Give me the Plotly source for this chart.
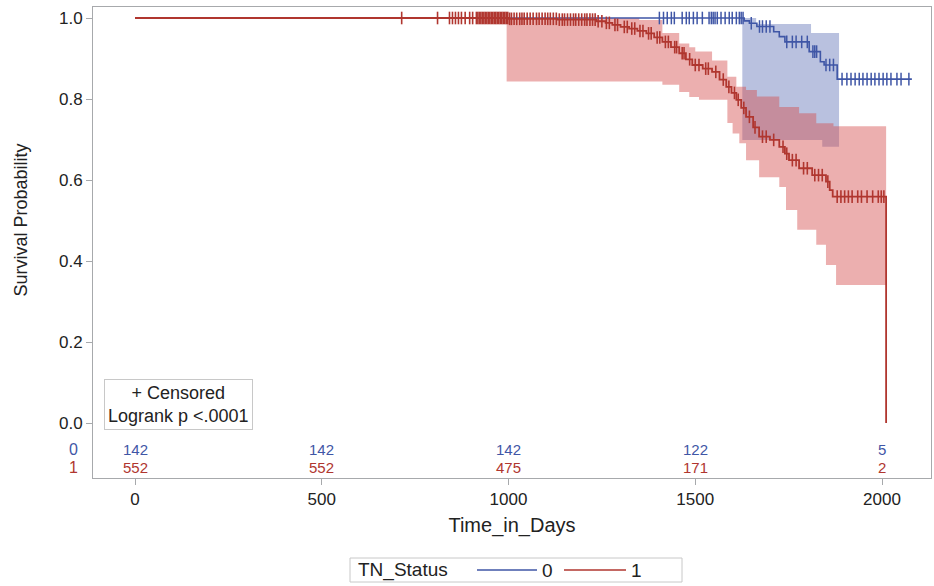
import numpy as np
import plotly.graph_objects as go

# ---------------- data ----------------
# Kaplan-Meier step curves (time in days, survival after event)
red_t = [0, 1000, 1130, 1235, 1260, 1278, 1300, 1323, 1345, 1369, 1390, 1412, 1435, 1457, 1475,
         1492, 1520, 1545, 1565, 1583, 1597, 1610, 1623, 1636, 1655, 1671, 1700, 1725, 1740, 1751,
         1778, 1813, 1850, 1860, 1868, 2011]
red_s = [1.0, 0.998, 0.996, 0.992, 0.988, 0.983, 0.978, 0.974, 0.968, 0.962, 0.952, 0.941, 0.928, 0.913, 0.898,
         0.884, 0.875, 0.867, 0.848, 0.830, 0.815, 0.798, 0.778, 0.756, 0.730, 0.707, 0.699, 0.682, 0.665, 0.649,
         0.629, 0.612, 0.596, 0.575, 0.559, 0.0]

blue_t = [0, 1631, 1645, 1665, 1710, 1725, 1740, 1805, 1835, 1845, 1880, 2080]
blue_s = [1.0, 0.993, 0.987, 0.979, 0.966, 0.954, 0.941, 0.917, 0.892, 0.884, 0.849, 0.849]

# Hall-Wellner confidence bands
red_band_t = [995, 1350, 1412, 1457, 1484, 1500, 1510, 1545, 1586, 1600, 1610, 1618, 1636, 1665, 1671,
              1725, 1743, 1773, 1778, 1824, 1850, 1870, 1877, 2011]
red_band_lo = [0.843, 0.843, 0.835, 0.817, 0.805, 0.805, 0.798, 0.798, 0.741, 0.715, 0.715, 0.691, 0.649, 0.649, 0.607,
               0.583, 0.526, 0.477, 0.477, 0.440, 0.390, 0.390, 0.341, 0.341]
red_band_hi = [1.0, 0.995, 0.963, 0.937, 0.928, 0.917, 0.917, 0.895, 0.855, 0.855, 0.830, 0.830, 0.822, 0.806, 0.806,
               0.780, 0.780, 0.780, 0.765, 0.740, 0.740, 0.733, 0.733, 0.733]

blue_band_t = [1626, 1663, 1810, 1840, 1885]
blue_band_lo = [0.699, 0.699, 0.699, 0.682, 0.682]
blue_band_hi = [1.0, 0.985, 0.963, 0.963, 0.963]

# censored observation times
red_cens = [714, 810, 842, 850, 858, 866, 874, 884, 896, 904,
            914, 918, 922, 926, 930, 934, 938, 942, 946, 950, 954, 958, 962, 966, 970, 974, 978, 982, 986, 990,
            994, 998, 1003, 1008, 1015, 1022, 1030, 1036, 1042, 1050, 1058, 1066, 1075, 1082, 1090, 1098, 1105,
            1112, 1120, 1128, 1136, 1144, 1150, 1158, 1166, 1174, 1180, 1188, 1196, 1204, 1210, 1218, 1225, 1232,
            1240, 1250, 1262, 1270, 1285, 1292, 1310, 1318, 1330, 1338, 1352, 1360, 1375, 1382, 1398, 1405, 1420,
            1428, 1445, 1450, 1465, 1470, 1485, 1500, 1510, 1528, 1535, 1555, 1575, 1590, 1605, 1615, 1630, 1645,
            1660, 1680, 1690, 1710, 1735, 1745, 1760, 1770, 1790, 1800, 1820, 1830, 1840, 1855,
            1880, 1890, 1900, 1910, 1920, 1935, 1945, 1960, 1975, 1990, 1998, 2005]
blue_cens = [1404, 1415, 1425, 1436, 1444, 1465, 1476, 1484, 1495, 1505, 1519, 1537, 1543, 1548, 1553, 1559,
             1569, 1580, 1591, 1599, 1610, 1618, 1623, 1628, 1650, 1672, 1680, 1690, 1700, 1745, 1760, 1770,
             1785, 1800, 1815, 1820, 1825, 1850, 1860, 1870,
             1893, 1906, 1917, 1928, 1939, 1949, 1960, 1971, 1981, 1992, 2003, 2013, 2024, 2040, 2051, 2072]

# number at risk
risk_times = [0, 500, 1000, 1500, 2000]
risk_blue = [142, 142, 142, 122, 5]
risk_red = [552, 552, 475, 171, 2]

y_ticks = [0.0, 0.2, 0.4, 0.6, 0.8, 1.0]
y_tick_labels = ["0.0", "0.2", "0.4", "0.6", "0.8", "1.0"]
x_ticks = [0, 500, 1000, 1500, 2000]

# ---------------- style ----------------
BLUE = "#3F56A6"
RED = "#B0362F"
AXIS = "#A7A9AC"
TXT = "#222222"
FONT = "Liberation Sans, Arial, sans-serif"

W, H = 934, 586
ML, MR, MT, MB = 93, 3, 7, 108
PW, PH = W - ML - MR, H - MT - MB


def px(xp):
    return (xp - ML) / PW


def py(yp):
    return (H - MB - yp) / PH


def step_at(times, surv, t):
    i = np.searchsorted(np.asarray(times), t, side="right") - 1
    return float(surv[max(i, 0)])


fig = go.Figure()

# bands
for bt, lo, hi, col in [(blue_band_t, blue_band_lo, blue_band_hi, "rgba(60,82,165,0.36)"),
                        (red_band_t, red_band_lo, red_band_hi, "rgba(212,78,78,0.45)")]:
    fig.add_trace(go.Scatter(x=bt, y=lo, mode="lines", line=dict(width=0, shape="hv"),
                             showlegend=False, hoverinfo="skip"))
    fig.add_trace(go.Scatter(x=bt, y=hi, mode="lines", line=dict(width=0, shape="hv"),
                             fill="tonexty", fillcolor=col, showlegend=False, hoverinfo="skip"))

# survival curves
fig.add_trace(go.Scatter(x=blue_t, y=blue_s, mode="lines", name="0",
                         line=dict(color=BLUE, width=1.6, shape="hv"), showlegend=False))
fig.add_trace(go.Scatter(x=red_t, y=red_s, mode="lines", name="1",
                         line=dict(color=RED, width=1.8, shape="hv"), showlegend=False))

# censored marks
fig.add_trace(go.Scatter(x=blue_cens, y=[step_at(blue_t, blue_s, t) for t in blue_cens], mode="markers",
                         marker=dict(symbol="line-ns", size=9, line=dict(color=BLUE, width=1.5)),
                         showlegend=False, hoverinfo="x+y"))
fig.add_trace(go.Scatter(x=red_cens, y=[step_at(red_t, red_s, t) for t in red_cens], mode="markers",
                         marker=dict(symbol="line-ns", size=9, line=dict(color=RED, width=1.6)),
                         showlegend=False, hoverinfo="x+y"))

ann = []
C = dict(xanchor="center", yanchor="middle", showarrow=False)
# number at risk rows
y_row0 = (423 - 449) / 405
y_row1 = (423 - 467) / 405
for t, b, r in zip(risk_times, risk_blue, risk_red):
    ann.append(dict(x=t, y=y_row0, xref="x", yref="y", text=str(b),
                    font=dict(color=BLUE, size=15, family=FONT), **C))
    ann.append(dict(x=t, y=y_row1, xref="x", yref="y", text=str(r),
                    font=dict(color=RED, size=15, family=FONT), **C))
ann.append(dict(x=px(73), y=y_row0, xref="paper", yref="y", text="0",
                font=dict(color=BLUE, size=16, family=FONT), **C))
ann.append(dict(x=px(73), y=y_row1, xref="paper", yref="y", text="1",
                font=dict(color=RED, size=16, family=FONT), **C))

# y axis title
ann.append(dict(x=px(20), y=0.5, xref="paper", yref="y", text="Survival Probability", textangle=-90,
                font=dict(color=TXT, size=18, family=FONT), **C))

# inset
ann.append(dict(x=px(178), y=py(404), xref="paper", yref="paper",
                text="+ Censored<br>Logrank p &lt;.0001", align="center",
                bordercolor="#C8C8C8", borderwidth=1, borderpad=3, bgcolor="white",
                font=dict(color=TXT, size=18, family=FONT), **C))

# manual legend
shapes = [dict(type="rect", xref="paper", yref="paper", x0=px(350), x1=px(682), y0=py(582), y1=py(558),
               line=dict(color="#C8C8C8", width=1), fillcolor="white"),
          dict(type="line", xref="paper", yref="paper", x0=px(477), x1=px(537), y0=py(570), y1=py(570),
               line=dict(color=BLUE, width=1.5)),
          dict(type="line", xref="paper", yref="paper", x0=px(564), x1=px(626), y0=py(570), y1=py(570),
               line=dict(color=RED, width=1.5))]
ann.append(dict(x=px(356), y=py(570), xref="paper", yref="paper", text="TN_Status",
                xanchor="left", yanchor="middle", showarrow=False,
                font=dict(color=TXT, size=19, family=FONT)))
ann.append(dict(x=px(547), y=py(570), xref="paper", yref="paper", text="0",
                font=dict(color=TXT, size=19, family=FONT), **C))
ann.append(dict(x=px(636), y=py(570), xref="paper", yref="paper", text="1",
                font=dict(color=TXT, size=19, family=FONT), **C))

fig.update_layout(
    width=W, height=H,
    margin=dict(l=ML, r=MR, t=MT, b=MB),
    paper_bgcolor="white", plot_bgcolor="white",
    font=dict(family=FONT, color=TXT),
    showlegend=False,
    annotations=ann, shapes=shapes,
    xaxis=dict(range=[(ML - 135) / 0.3735, (W - MR - 135) / 0.3735], tickvals=x_ticks,
               showline=True, linecolor=AXIS, mirror=True, ticks="outside", ticklen=6, tickcolor=AXIS,
               showgrid=False, zeroline=False, tickfont=dict(size=17, color=TXT),
               title=dict(text="Time_in_Days", font=dict(size=20, color=TXT), standoff=9)),
    yaxis=dict(range=[(423 - 478) / 405, (423 - 7) / 405], tickvals=y_ticks, ticktext=y_tick_labels,
               showline=True, linecolor=AXIS, mirror=True, ticks="outside", ticklen=6, tickcolor=AXIS,
               showgrid=False, zeroline=False, tickfont=dict(size=17, color=TXT)),
)

fig.write_html("out.html")
